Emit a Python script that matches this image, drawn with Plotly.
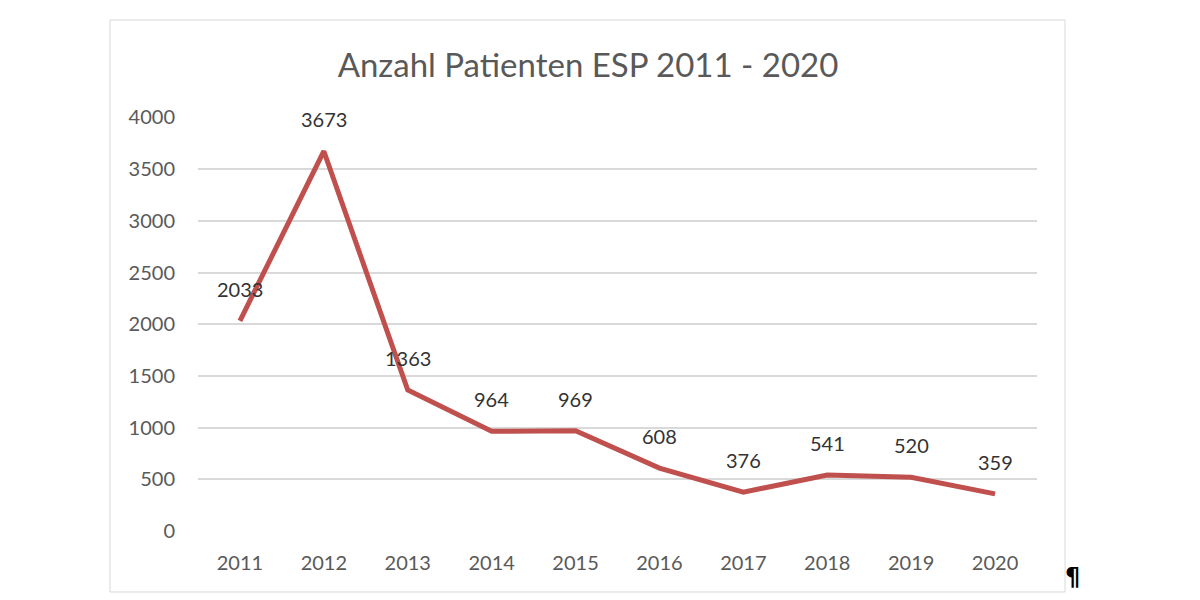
import plotly.graph_objects as go

# Anzahl Patienten ESP pro Jahr
years = ["2011", "2012", "2013", "2014", "2015", "2016", "2017", "2018", "2019", "2020"]
patients = [2033, 3673, 1363, 964, 969, 608, 376, 541, 520, 359]
y_ticks = [0, 500, 1000, 1500, 2000, 2500, 3000, 3500, 4000]

FONT = "Lato, 'Open Sans', sans-serif"
line_col = "#C0504D"

fig = go.Figure()
fig.add_trace(go.Scatter(
    x=years, y=patients, mode="lines",
    line=dict(color=line_col, width=5),
    hoverinfo="x+y", showlegend=False,
))

# Datenbeschriftungen oberhalb der Punkte (wie in Excel)
for i, val in enumerate(patients):
    fig.add_annotation(x=i, y=val, text=str(val), showarrow=False,
                       yshift=32, font=dict(family=FONT, size=20, color="#333333"))

# Rahmen um das Diagramm
fig.add_shape(type="rect", xref="paper", yref="paper",
              x0=-0.1049, x1=1.0334, y0=-0.1473, y1=1.2343,
              line=dict(color="#D9D9D9", width=1), fillcolor="rgba(0,0,0,0)")

fig.add_annotation(text="<b>¶</b>", xref="paper", yref="paper",
                   x=(1082 - 198) / 839, y=(531 - 593) / 414,
                   showarrow=False, font=dict(family="DejaVu Sans", size=24, color="black"))

fig.update_layout(
    width=1200, height=600,
    margin=dict(l=190, r=171, t=109, b=77),
    paper_bgcolor="white", plot_bgcolor="white",
    title=dict(text="Anzahl Patienten ESP 2011 - 2020",
               x=580 / 1200, xanchor="center", xref="container",
               y=1 - 57 / 600, yanchor="middle", yref="container",
               font=dict(family=FONT, size=33, color="#595959")),
    xaxis=dict(type="category", range=[-0.5, 9.5], showgrid=False, zeroline=False,
               showline=False, ticks="", ticklabelstandoff=18,
               tickfont=dict(family=FONT, size=20, color="#595959")),
    yaxis=dict(range=[0, 4004], tickvals=y_ticks, showgrid=True, gridcolor="#D9D9D9",
               gridwidth=1.5, zeroline=False, showline=False, ticks="",
               ticklabelstandoff=22,
               tickfont=dict(family=FONT, size=20, color="#595959")),
)

fig.write_html("out.html")
